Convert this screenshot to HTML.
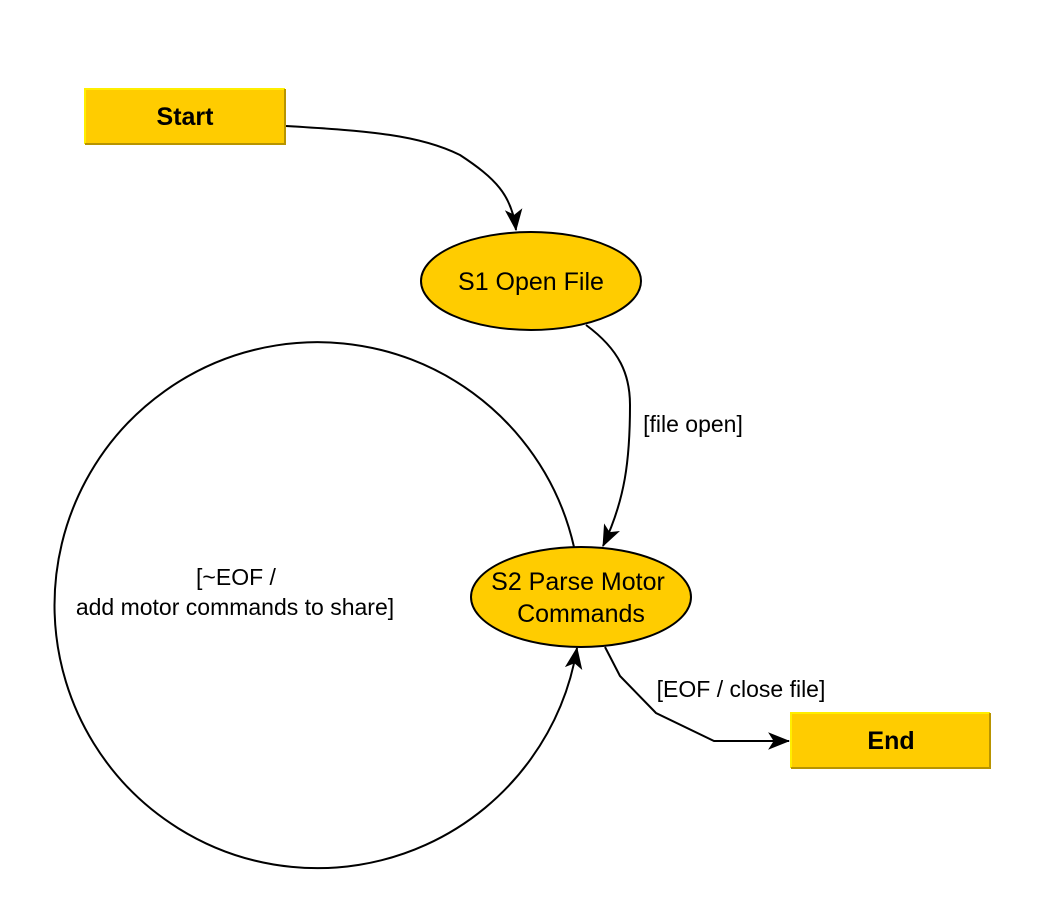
<!DOCTYPE html>
<html><head><style>
html,body{margin:0;padding:0;background:#fff;width:1062px;height:923px;overflow:hidden}
svg{display:block}
text{font-family:"Liberation Sans",Arial,sans-serif}
</style></head><body>
<svg width="1062" height="923" viewBox="0 0 1062 923" xmlns="http://www.w3.org/2000/svg">
<defs>
<marker id="b" viewBox="0 0 20 20" refX="19" refY="10" markerWidth="22" markerHeight="22" markerUnits="userSpaceOnUse" orient="auto">
<path d="M0,2 L20,10 L0,18 L5,10 Z" fill="#000"/>
</marker>
</defs>
<rect x="85" y="89" width="200" height="55" fill="#ffcc00"/>
<path d="M85,144 L85,89 L285,89" stroke="#ffee00" stroke-width="2" fill="none"/>
<path d="M85,144 L285,144 L285,89" stroke="#b89400" stroke-width="2" fill="none"/>
<text x="185" y="125" font-size="25" font-weight="bold" text-anchor="middle">Start</text>
<rect x="791" y="713" width="199" height="55" fill="#ffcc00"/>
<path d="M791,768 L791,713 L990,713" stroke="#ffee00" stroke-width="2" fill="none"/>
<path d="M791,768 L990,768 L990,713" stroke="#b89400" stroke-width="2" fill="none"/>
<text x="891" y="749" font-size="25" font-weight="bold" text-anchor="middle">End</text>
<ellipse cx="531" cy="281" rx="110" ry="49" fill="#ffcc00" stroke="#000" stroke-width="2"/>
<text x="531" y="290" font-size="25" text-anchor="middle">S1 Open File</text>
<ellipse cx="581" cy="597" rx="110" ry="50" fill="#ffcc00" stroke="#000" stroke-width="2"/>
<text x="578" y="590" font-size="25" text-anchor="middle">S2 Parse Motor</text>
<text x="581" y="622" font-size="25" text-anchor="middle">Commands</text>
<path d="M286,126 C370,131 420,135 460,155 C495,178 512,195 516,230" fill="none" stroke="#000" stroke-width="2" marker-end="url(#b)"/>
<path d="M586,325 C620,350 630,375 630,405 C630,460 625,500 603,546" fill="none" stroke="#000" stroke-width="2" marker-end="url(#b)"/>
<path d="M574,547 A263,263 0 1 0 577,648" fill="none" stroke="#000" stroke-width="2" marker-end="url(#b)"/>
<path d="M605,647 L620,676 L656,713 L714,741 L789,741" fill="none" stroke="#000" stroke-width="2" marker-end="url(#b)"/>
<text x="693" y="432" font-size="23" text-anchor="middle">[file open]</text>
<text x="236" y="585" font-size="23" text-anchor="middle">[~EOF /</text>
<text x="235" y="615" font-size="23" text-anchor="middle">add motor commands to share]</text>
<text x="741" y="697" font-size="23" text-anchor="middle">[EOF / close file]</text>
</svg>
</body></html>
